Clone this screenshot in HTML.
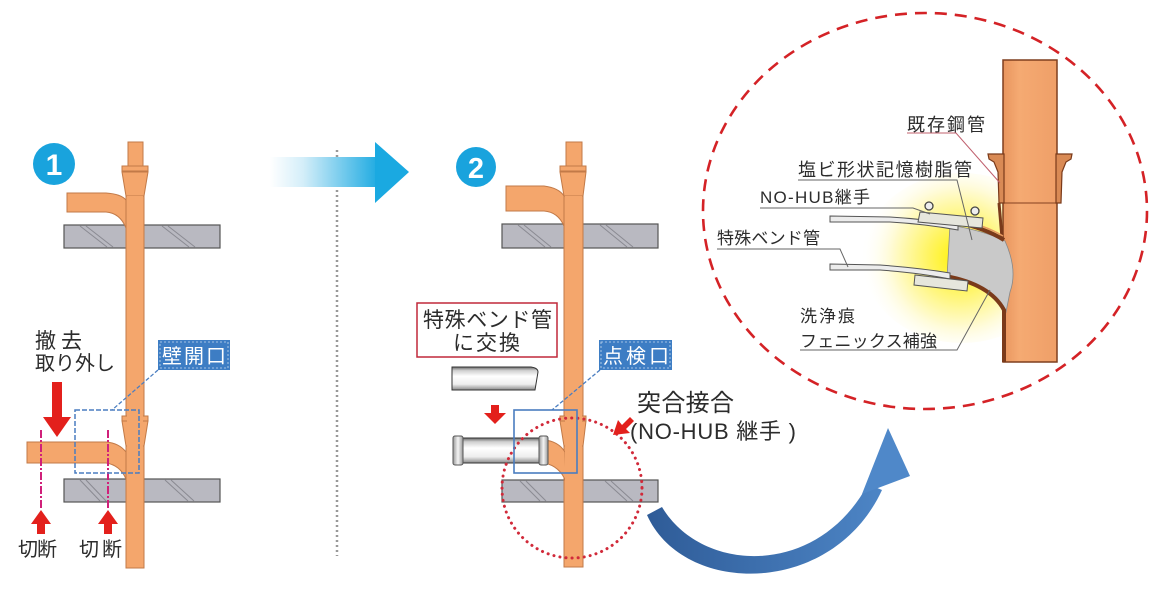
<!DOCTYPE html>
<html><head><meta charset="utf-8"><style>
html,body{margin:0;padding:0;background:#fff;}
svg{display:block;}
text{font-family:"Liberation Sans","Noto Sans CJK JP",sans-serif;fill:#2c2c2c;}
</style></head><body>
<svg width="1158" height="593" viewBox="0 0 1158 593" xmlns="http://www.w3.org/2000/svg">
<defs>
<linearGradient id="ag" x1="270" y1="0" x2="380" y2="0" gradientUnits="userSpaceOnUse">
<stop offset="0" stop-color="#ffffff"/><stop offset="0.3" stop-color="#d4eef9"/><stop offset="1" stop-color="#1aa9e1"/></linearGradient>
<linearGradient id="bg" x1="650" y1="0" x2="900" y2="0" gradientUnits="userSpaceOnUse">
<stop offset="0" stop-color="#2f5c98"/><stop offset="1" stop-color="#4f88c9"/></linearGradient>
<linearGradient id="gp" x1="0" y1="0" x2="0" y2="1">
<stop offset="0" stop-color="#666"/><stop offset="0.15" stop-color="#cfcfcf"/><stop offset="0.4" stop-color="#ffffff"/><stop offset="0.75" stop-color="#eeeeee"/><stop offset="1" stop-color="#8a8a8a"/></linearGradient>
<linearGradient id="rg" x1="0" y1="0" x2="1" y2="0">
<stop offset="0" stop-color="#999"/><stop offset="0.5" stop-color="#f4f4f4"/><stop offset="1" stop-color="#999"/></linearGradient>
<radialGradient id="yg" cx="960" cy="258" r="100" gradientUnits="userSpaceOnUse">
<stop offset="0" stop-color="#fff200"/><stop offset="0.3" stop-color="#fff45c"/><stop offset="0.7" stop-color="#fffbd6"/><stop offset="1" stop-color="#ffffff" stop-opacity="0"/></radialGradient>
<linearGradient id="op" x1="0" y1="0" x2="1" y2="0">
<stop offset="0" stop-color="#e8955e"/><stop offset="0.3" stop-color="#f5aa72"/><stop offset="1" stop-color="#ef9f68"/></linearGradient>
</defs>

<!-- ===== Panel 1 ===== -->
<circle cx="54" cy="164" r="21" fill="#19a3dd"/>
<text x="54" y="175" text-anchor="middle" font-size="30" font-weight="bold" style="fill:#fff">1</text>

<g stroke="#555" stroke-width="1.2" fill="#b9b9c1">
<rect x="64" y="225" width="156" height="23"/>
<rect x="64" y="479" width="156" height="23"/>
</g>
<g stroke="#8a8a92" stroke-width="1">
<line x1="80" y1="226" x2="107" y2="247"/><line x1="86" y1="226" x2="113" y2="247"/>
<line x1="162" y1="226" x2="189" y2="247"/><line x1="168" y1="226" x2="195" y2="247"/>
<line x1="80" y1="480" x2="100" y2="501"/><line x1="86" y1="480" x2="106" y2="501"/>
<line x1="165" y1="480" x2="188" y2="501"/><line x1="171" y1="480" x2="194" y2="501"/>
</g>

<g fill="#f4a66c" stroke="#c27a48" stroke-width="1">
<rect x="128" y="142" width="15" height="26"/>
<path d="M67,193 L106,193 Q121,194 126,200 L126,228 Q120,213 106,212 L67,212 Z"/>
<rect x="126" y="170" width="18" height="398"/>
<path d="M122,172 L148,172 L144,196 L126,196 Z"/>
<rect x="122" y="166" width="26" height="5"/>
<path d="M27,442 L106,442 Q119,443 126,452 L126,479 Q120,465 106,463 L27,463 Z"/>
<path d="M122,421 L148,421 L144,446 L126,446 Z"/>
<rect x="122" y="416" width="26" height="5"/>
</g>
<rect x="127" y="196" width="16" height="370" fill="#f4a66c"/>
<rect x="127" y="422" width="16" height="50" fill="#f4a66c"/>

<g stroke="#d0207a" stroke-width="2" stroke-dasharray="8 2 2 2">
<line x1="41" y1="430" x2="41" y2="508"/>
<line x1="108" y1="430" x2="108" y2="508"/>
</g>
<g fill="#e3201c">
<polygon points="41,510 31,524 51,524"/><rect x="37" y="523" width="8" height="11"/>
<polygon points="108,510 98,524 118,524"/><rect x="104" y="523" width="8" height="11"/>
<rect x="52" y="382" width="10" height="38"/><polygon points="43,417 71,417 57,437"/>
</g>

<rect x="75" y="410" width="64" height="63" fill="none" stroke="#4a7dc0" stroke-width="1.5" stroke-dasharray="5 2"/>
<line x1="158" y1="370" x2="112" y2="410" stroke="#4a7dc0" stroke-width="1.3" stroke-dasharray="4 2"/>
<rect x="158" y="340" width="72" height="30" fill="#3d7dc4"/>
<rect x="160" y="342" width="68" height="26" fill="none" stroke="#fff" stroke-width="0.8" stroke-dasharray="2 2" opacity="0.7"/>
<text x="162" y="363" font-size="20" textLength="64" style="fill:#fff">壁開口</text>

<text x="35" y="348" font-size="21" textLength="47">撤去</text>
<text x="35" y="370" font-size="20" textLength="80">取り外し</text>
<text x="18" y="556" font-size="20" textLength="39">切断</text>
<text x="79" y="556" font-size="20" textLength="43">切断</text>

<!-- ===== Center arrow ===== -->
<line x1="337" y1="150" x2="337" y2="556" stroke="#999" stroke-width="2.5" stroke-dasharray="2 3"/>
<rect x="270" y="157" width="106" height="30" fill="url(#ag)"/>
<polygon points="375,142 409,172 375,203" fill="#1aa9e1"/>

<!-- ===== Panel 2 ===== -->
<circle cx="476" cy="167" r="20" fill="#19a3dd"/>
<text x="476" y="178" text-anchor="middle" font-size="29" font-weight="bold" style="fill:#fff">2</text>

<g stroke="#555" stroke-width="1.2" fill="#b9b9c1">
<rect x="502" y="224" width="156" height="24"/>
<rect x="502" y="480" width="156" height="22"/>
</g>
<g stroke="#8a8a92" stroke-width="1">
<line x1="518" y1="225" x2="545" y2="247"/><line x1="524" y1="225" x2="551" y2="247"/>
<line x1="600" y1="225" x2="627" y2="247"/><line x1="606" y1="225" x2="633" y2="247"/>
<line x1="520" y1="481" x2="540" y2="501"/><line x1="526" y1="481" x2="546" y2="501"/>
<line x1="605" y1="481" x2="627" y2="501"/><line x1="611" y1="481" x2="633" y2="501"/>
</g>

<g fill="#f4a66c" stroke="#c27a48" stroke-width="1">
<rect x="566" y="142" width="16" height="26"/>
<path d="M506,186 L544,186 Q559,188 564,196 L564,226 Q558,212 544,211 L506,211 Z"/>
<rect x="564" y="170" width="19" height="397"/>
<path d="M560,172 L586,172 L583,196 L564,196 Z"/>
<rect x="560" y="166" width="26" height="5"/>
<path d="M544,440 Q558,441 565,452 L566,482 Q560,466 544,463 Z"/>
<path d="M560,421 L586,421 L583,446 L564,446 Z"/>
<rect x="560" y="416" width="26" height="5"/>
</g>
<rect x="565" y="196" width="17" height="369" fill="#f4a66c"/>
<rect x="565" y="422" width="17" height="50" fill="#f4a66c"/>

<path d="M452,367 L531,367 Q538,368 538,372 L535,390 L452,390 Z" fill="url(#gp)" stroke="#333" stroke-width="1"/>
<rect x="455" y="438" width="90" height="25" fill="url(#gp)" stroke="#333" stroke-width="1"/>
<rect x="453" y="436" width="10" height="29" rx="2" fill="url(#rg)" stroke="#555" stroke-width="1"/>
<rect x="539" y="436" width="9" height="29" rx="2" fill="url(#rg)" stroke="#555" stroke-width="1"/>

<circle cx="572" cy="488" r="70" fill="none" stroke="#d12a3a" stroke-width="3" stroke-dasharray="0.1 6" stroke-linecap="round"/>

<rect x="514" y="410" width="63" height="63" fill="none" stroke="#4a7dc0" stroke-width="1.6"/>
<line x1="600" y1="370" x2="552" y2="410" stroke="#4a7dc0" stroke-width="1.3" stroke-dasharray="4 2"/>
<rect x="599" y="340" width="73" height="30" fill="#3d7dc4"/>
<rect x="601" y="342" width="69" height="26" fill="none" stroke="#fff" stroke-width="0.8" stroke-dasharray="2 2" opacity="0.7"/>
<text x="603" y="363" font-size="20" textLength="66" style="fill:#fff">点検口</text>

<rect x="417" y="303" width="140" height="54" fill="#fff" stroke="#c0283a" stroke-width="1.5"/>
<text x="423" y="327" font-size="21" textLength="129">特殊ベンド管</text>
<text x="453" y="350" font-size="21" textLength="67">に交換</text>

<g fill="#e3201c">
<rect x="491" y="405" width="8" height="9"/><polygon points="484,413 506,413 495,424"/>
<polygon points="613,435 618,420 622,425 630,417 634,421 626,429 630,433"/>
</g>
<text x="637" y="411" font-size="24" textLength="97">突合接合</text>
<text x="630" y="439" font-size="22" textLength="166">(NO-HUB 継手 )</text>

<path d="M647,515 C683,596 832,598 882,490 L868,484 C818,578 702,574 662,507 Z" fill="url(#bg)"/>
<polygon points="888,428 862,494 910,476" fill="#4f88c9"/>

<!-- ===== Right detail circle ===== -->
<ellipse cx="962" cy="258" rx="100" ry="85" fill="url(#yg)"/>
<ellipse cx="925" cy="211" rx="222" ry="198" fill="none" stroke="#d42226" stroke-width="2.6" stroke-dasharray="12 8"/>

<rect x="1003" y="60" width="54" height="302" fill="url(#op)" stroke="#7f3f1e" stroke-width="1.5"/>
<line x1="1003" y1="203" x2="1057" y2="203" stroke="#9a5530" stroke-width="1.2"/>
<g fill="#d98a55" stroke="#7a3a1a" stroke-width="1.2">
<polygon points="988,154 1004,154 1004,203 999,203 998,172 994,162 989,159"/>
<polygon points="1072,154 1056,154 1056,203 1061,203 1062,172 1066,162 1071,159"/>
</g>
<path d="M999,203 L1002,238" stroke="#7a3a1a" stroke-width="3" fill="none"/>
<path d="M950,225 Q985,231 1005,241 Q1018,270 1010,292 L1006,312 Q993,287 947,277 Z" fill="#c9c9c9" stroke="#888" stroke-width="0.8"/>
<path d="M955,222 Q985,228 1004,240" stroke="#7a3a1a" stroke-width="4" fill="none"/>
<path d="M945,276 Q990,284 1004,310 L1004,362" stroke="#7a3a1a" stroke-width="4" fill="none"/>
<path d="M955,219 Q985,225 1003,236" stroke="#e79a62" stroke-width="1.5" fill="none"/>
<path d="M830,216 L890,217 Q925,219 958,225 L958,230 Q925,224 890,222 L830,222 Z" fill="#ececec" stroke="#555" stroke-width="1"/>
<path d="M830,264 L880,265 Q920,268 950,273 L950,279 Q920,273 880,270 L830,270 Z" fill="#ececec" stroke="#555" stroke-width="1"/>
<path d="M920,212 L983,218 L982,228 L918,222 Z" fill="#e6e6dc" stroke="#555" stroke-width="1"/>
<circle cx="929" cy="206" r="4" fill="#eee" stroke="#444" stroke-width="1.3"/>
<circle cx="975" cy="211" r="4" fill="#eee" stroke="#444" stroke-width="1.3"/>
<path d="M915,275 L968,281 L967,291 L914,285 Z" fill="#e6e6dc" stroke="#555" stroke-width="1"/>

<polyline points="907,133 956,133 1000,183" fill="none" stroke="#c0606e" stroke-width="1"/>
<polyline points="798,180 957,180 972,240" fill="none" stroke="#666" stroke-width="1"/>
<polyline points="760,208 913,208 930,214" fill="none" stroke="#666" stroke-width="1"/>
<polyline points="717,249 840,249 848,267" fill="none" stroke="#666" stroke-width="1"/>
<polyline points="800,350 957,350 990,290" fill="none" stroke="#666" stroke-width="1"/>

<text x="907" y="131" font-size="18" textLength="78">既存鋼管</text>
<text x="798" y="176" font-size="18" textLength="174">塩ビ形状記憶樹脂管</text>
<text x="760" y="203" font-size="17" textLength="110">NO-HUB継手</text>
<text x="717" y="244" font-size="17" textLength="103">特殊ベンド管</text>
<text x="800" y="322" font-size="17" textLength="55">洗浄痕</text>
<text x="800" y="347" font-size="17" textLength="137">フェニックス補強</text>
</svg>
</body></html>
